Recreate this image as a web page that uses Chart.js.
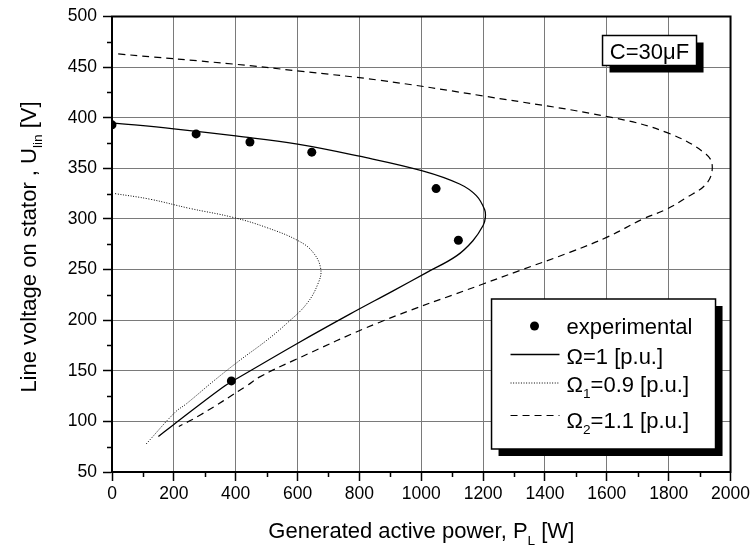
<!DOCTYPE html>
<html>
<head>
<meta charset="utf-8">
<script src="https://cdn.jsdelivr.net/npm/chart.js@4.4.1/dist/chart.umd.min.js"></script>
<style>
  html, body { margin: 0; padding: 0; background: #fff; }
  #wrap { width: 753px; height: 549px; }
</style>
</head>
<body>
<div id="wrap"><canvas id="chart" width="753" height="549"></canvas></div>
<script>
// values, P in W, U in V
let expP = [0, 272, 446, 646, 1048, 1120, 386];
let expU = [393, 384, 376, 366, 330, 279, 140];

let omegaP = [0, 200, 400, 600, 800, 1004, 1124, 1178, 1205, 1207, 1200, 1167, 1114, 1017, 909, 769, 602, 397, 355, 200, 150];
let omegaU = [395, 389, 382, 374, 362, 347.5, 334.5, 323, 309, 301, 293.5, 278.5, 263.5, 247, 229, 206, 177.5, 141, 133, 97, 85];

let omega1P = [10, 123, 250, 392, 500, 602, 650, 675, 666, 629, 564, 500, 414, 333, 241, 204, 110];
let omega1U = [325, 319.5, 310.5, 301.5, 291.5, 278.5, 267, 250.5, 236, 216, 196.5, 180, 160.5, 141, 117.5, 109, 77.5];

let omega2P = [20, 392, 607, 866, 1200, 1620, 1797, 1921, 1941, 1921, 1857, 1792, 1717, 1601, 1480, 1318, 1202, 866, 586, 478, 435, 284, 216];
let omega2U = [463, 453, 446, 437, 421.5, 400, 385, 364, 351, 334.5, 321, 309.5, 300, 282, 267, 249, 236, 198, 160, 144, 135, 106, 95];

let seriesLabels = ["experimental", "\u03A9=1 [p.u.]", "\u03A9_{1}=0.9 [p.u.]", "\u03A9_{2}=1.1 [p.u.]"];
let xTickLabels = [0, 200, 400, 600, 800, 1000, 1200, 1400, 1600, 1800, 2000];
let yTickLabels = [50, 100, 150, 200, 250, 300, 350, 400, 450, 500];
let xTitle = "Generated active power, P_{L} [W]";
let yTitle = "Line voltage on stator , U_{lin} [V]";
let noteText = "C=30\u03BCF";

const FONT = "'Liberation Sans', Arial, sans-serif";

function pts(xs, ys) {
    return xs.map(function (x, i) { return { x: x, y: ys[i] }; });
}

// split "a_{b}c" into normal / subscript pieces
function parseRich(text) {
    let parts = [];
    let re = /_\{([^}]*)\}/g;
    let last = 0, m;
    while ((m = re.exec(text))) {
        if (m.index > last) parts.push({ t: text.slice(last, m.index), sub: false });
        parts.push({ t: m[1], sub: true });
        last = re.lastIndex;
    }
    if (last < text.length) parts.push({ t: text.slice(last), sub: false });
    return parts;
}

function drawRich(c, text, x, y, size, align) {
    let parts = parseRich(text);
    let subSize = size * 0.62;
    let w = 0;
    parts.forEach(function (p) {
        c.font = (p.sub ? subSize : size) + "px " + FONT;
        p.w = c.measureText(p.t).width;
        w += p.w;
    });
    let cx = align === "center" ? x - w / 2 : x;
    c.textAlign = "left";
    c.textBaseline = "alphabetic";
    parts.forEach(function (p) {
        c.font = (p.sub ? subSize : size) + "px " + FONT;
        c.fillText(p.t, cx, p.sub ? y + size * 0.3 : y);
        cx += p.w;
    });
}

function shadowBox(c, x, y, w, h) {
    c.fillStyle = "#000";
    c.fillRect(x + 7, y + 7, w, h);
    c.fillStyle = "#fff";
    c.fillRect(x, y, w, h);
    c.strokeStyle = "#000";
    c.lineWidth = 1.5;
    c.strokeRect(x, y, w, h);
}

const decor = {
    id: "decor",
    beforeDraw: function (chart) {
        let c = chart.ctx;
        c.save();
        c.fillStyle = "#fff";
        c.fillRect(0, 0, chart.width, chart.height);
        c.restore();
    },
    afterDraw: function (chart) {
        let c = chart.ctx, a = chart.chartArea;
        let sx = chart.scales.x, sy = chart.scales.y;
        c.save();

        // frame
        c.strokeStyle = "#000";
        c.lineWidth = 2;
        c.strokeRect(a.left, a.top, a.right - a.left, a.bottom - a.top);

        // minor ticks
        c.lineWidth = 1.5;
        c.beginPath();
        sx.ticks.forEach(function (t) {
            if (xTickLabels.indexOf(t.value) < 0) {
                let px = Math.round(sx.getPixelForValue(t.value)) + 0.5;
                c.moveTo(px, a.bottom);
                c.lineTo(px, a.bottom + 5);
            }
        });
        sy.ticks.forEach(function (t) {
            if (yTickLabels.indexOf(t.value) < 0) {
                let py = Math.round(sy.getPixelForValue(t.value)) + 0.5;
                c.moveTo(a.left, py);
                c.lineTo(a.left - 5, py);
            }
        });
        c.stroke();

        // capacitor note
        let nx = a.right - 128, ny = a.top + 19;
        shadowBox(c, nx, ny, 94, 30);
        c.fillStyle = "#000";
        drawRich(c, noteText, nx + 47, ny + 23.5, 22, "center");

        // legend
        let lx = a.right - 239, ly = a.bottom - 173;
        shadowBox(c, lx, ly, 224, 150);
        let base = [35, 64.5, 92.5, 128.5];
        let mark = [27, 55.5, 84, 116.5];
        chart.data.datasets.forEach(function (ds, i) {
            let my = ly + mark[i];
            c.strokeStyle = "#000";
            c.fillStyle = "#000";
            if (ds.showLine === false) {
                c.beginPath();
                c.arc(lx + 43, my, ds.pointRadius, 0, Math.PI * 2);
                c.fill();
            } else {
                c.lineWidth = ds.borderWidth;
                c.setLineDash(ds.borderDash || []);
                c.beginPath();
                c.moveTo(lx + 19, my);
                c.lineTo(lx + 68, my);
                c.stroke();
                c.setLineDash([]);
            }
            drawRich(c, seriesLabels[i], lx + 75, ly + base[i], 22, "left");
        });

        // axis titles
        c.fillStyle = "#000";
        drawRich(c, xTitle, (a.left + a.right) / 2, 538, 22, "center");
        c.translate(35.5, 247);
        c.rotate(-Math.PI / 2);
        drawRich(c, yTitle, 0, 0, 22, "center");

        c.restore();
    }
};

const ctx = document.getElementById("chart").getContext("2d");
const chart = new Chart(ctx, {
    type: "scatter",
    data: {
        datasets: [
            {
                label: seriesLabels[0],
                data: pts(expP, expU),
                showLine: false,
                pointRadius: 4.5,
                pointBackgroundColor: "#000",
                pointBorderWidth: 0,
                clip: 0
            },
            {
                label: seriesLabels[1],
                data: pts(omegaP, omegaU),
                showLine: true,
                borderColor: "#000",
                borderWidth: 1.3,
                pointRadius: 0,
                tension: 0.4
            },
            {
                label: seriesLabels[2],
                data: pts(omega1P, omega1U),
                showLine: true,
                borderColor: "#000",
                borderWidth: 1,
                borderDash: [1, 1.6],
                pointRadius: 0,
                tension: 0.4
            },
            {
                label: seriesLabels[3],
                data: pts(omega2P, omega2U),
                showLine: true,
                borderColor: "#000",
                borderWidth: 1.2,
                borderDash: [7, 5],
                pointRadius: 0,
                tension: 0.4
            }
        ]
    },
    options: {
        responsive: false,
        animation: false,
        devicePixelRatio: 1,
        layout: { padding: { top: 15, right: 22, left: 0, bottom: 0 } },
        plugins: {
            legend: { display: false },
            tooltip: { enabled: false }
        },
        scales: {
            x: {
                type: "linear",
                min: 0,
                max: 2000,
                afterFit: function (s) { s.height = 77; },
                ticks: {
                    stepSize: 100,
                    autoSkip: false,
                    maxRotation: 0,
                    padding: 3,
                    color: "#000",
                    font: { family: FONT, size: 17.5 },
                    callback: function (v) { return xTickLabels.indexOf(v) >= 0 ? String(v) : ""; }
                },
                grid: {
                    color: function (c) { return c.tick && xTickLabels.indexOf(c.tick.value) >= 0 ? "#7a7a7a" : "rgba(0,0,0,0)"; },
                    lineWidth: 1,
                    tickLength: 9,
                    tickWidth: 1.5,
                    tickColor: function (c) { return c.tick && xTickLabels.indexOf(c.tick.value) >= 0 ? "#000" : "rgba(0,0,0,0)"; }
                },
                border: { display: true, color: "#000", width: 2 }
            },
            y: {
                type: "linear",
                min: 50,
                max: 500,
                afterFit: function (s) { s.width = 112; },
                ticks: {
                    stepSize: 25,
                    autoSkip: false,
                    padding: 6,
                    color: "#000",
                    font: { family: FONT, size: 17.5 },
                    callback: function (v) { return yTickLabels.indexOf(v) >= 0 ? String(v) : ""; }
                },
                grid: {
                    color: function (c) { return c.tick && yTickLabels.indexOf(c.tick.value) >= 0 ? "#7a7a7a" : "rgba(0,0,0,0)"; },
                    lineWidth: 1,
                    tickLength: 9,
                    tickWidth: 1.5,
                    tickColor: function (c) { return c.tick && yTickLabels.indexOf(c.tick.value) >= 0 ? "#000" : "rgba(0,0,0,0)"; }
                },
                border: { display: true, color: "#000", width: 2 }
            }
        }
    },
    plugins: [decor]
});
</script>
</body>
</html>
